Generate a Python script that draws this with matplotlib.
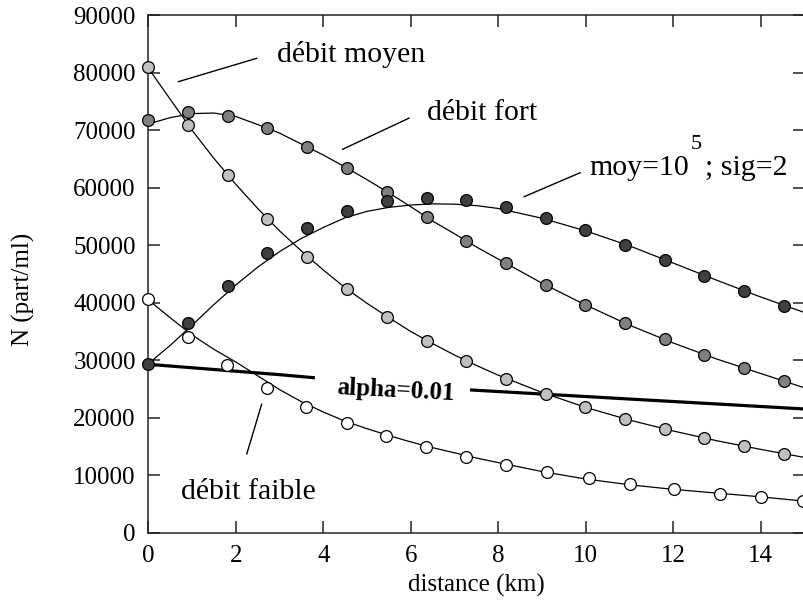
import matplotlib
matplotlib.use('Agg')
import numpy as np
import matplotlib.pyplot as plt

plt.rcParams['font.family'] = ['Liberation Serif', 'DejaVu Serif']

# sample points (km) of the measured series
km_pts = [0, 0.91, 1.82, 2.72, 3.63, 4.54, 5.45, 6.36, 7.26, 8.17, 9.08,
          9.99, 10.9, 11.8, 12.71, 13.62, 14.53]
km_faible = [0, 0.9, 1.8, 2.71, 3.6, 4.53, 5.43, 6.35, 7.26, 8.18, 9.11,
             10.07, 11.0, 12.02, 13.07, 14.0, 14.96]

n_moyen = [81060, 70920, 62170, 54600, 48020, 42340, 37580, 33350, 29930,
           26750, 24140, 21820, 19850, 18000, 16500, 15090, 13760]
n_fort = [71790, 73180, 72480, 70340, 67140, 63440, 59320, 54860, 50800,
          46860, 43090, 39640, 36430, 33650, 30920, 28610, 26420]
n_moy_sig = [29350, 36430, 42920, 48600, 53000, 55930, 57640, 58220, 57870,
             56600, 54800, 52600, 50050, 47380, 44710, 42000, 39490]
n_faible = [40660, 34100, 29180, 25100, 21820, 19150, 16830, 14970, 13230,
            11840, 10570, 9480, 8490, 7620, 6800, 6170, 5580]

# fitted curves
km_fit = [0, 0.5, 1, 1.5, 2, 2.5, 3, 3.5, 4, 4.5, 5, 5.5, 6, 6.5, 7, 7.5,
          8, 9, 10, 11, 12, 13, 14, 15]
fit_moyen = [80800, 75400, 70000, 65100, 60600, 56400, 52500, 49000, 45700,
             42600, 39900, 37400, 35000, 32900, 30900, 29100, 27400, 24400,
             21800, 19600, 17700, 16000, 14500, 13100]
fit_fort = [71100, 72200, 72900, 73000, 72400, 71000, 69500, 67600, 65700,
            63600, 61400, 59100, 56700, 54200, 52000, 49700, 47600, 43400,
            39600, 36100, 33000, 30200, 27700, 25200]
fit_moy_sig = [29400, 32600, 36100, 39700, 43100, 46200, 48900, 51200, 53100,
               54800, 55900, 56600, 57000, 57200, 57150, 56900, 56400, 54700,
               52500, 49900, 46900, 43900, 41000, 38300]
fit_faible = [40500, 37400, 34400, 31900, 29700, 27300, 24900, 22800, 21000,
              19400, 18100, 16900, 15800, 14800, 13900, 13000, 12200, 10650,
              9350, 8350, 7550, 6900, 6250, 5500]

# alpha=0.01 curve, broken where its label sits
km_alpha = [0, 1, 2, 3, 3.77, np.nan, 7.39, 9, 11, 13, 15]
n_alpha = [29300, 28700, 28100, 27500, 26980, np.nan, 24830, 24130, 23260,
           22400, 21530]

fig = plt.figure(figsize=(8.04, 6.04), dpi=100)
ax = fig.add_axes([0.1845, 0.1179, 0.8162, 0.8568])

for yfit in (fit_moyen, fit_fort, fit_moy_sig, fit_faible):
    ax.plot(km_fit, yfit, color='black', lw=0.9, zorder=2)
ax.plot(km_alpha, n_alpha, color='black', lw=2.3, zorder=2)

mk = dict(ls='none', marker='o', ms=8.5, mec='black', mew=0.9, zorder=3,
          clip_on=False)
ax.plot(km_pts, n_moyen, mfc='#c0c0c0', **mk)
ax.plot(km_pts, n_fort, mfc='#808080', **mk)
ax.plot(km_pts, n_moy_sig, mfc='#404040', **mk)
ax.plot(km_faible, n_faible, mfc='white', **mk)

# labels and their pointer lines
lab = dict(fontsize=21.5, va='baseline', ha='left')
ax.text(2.935, 81870, 'débit moyen', **lab)
ax.plot([0.686, 2.478], [78450, 82520], color='black', lw=1)
ax.text(6.38, 71790, 'débit fort', **lab)
ax.plot([4.44, 5.96], [66690, 72120], color='black', lw=1)
ax.text(10.08, 62220, 'moy=10', **lab)
ax.text(12.40, 66690, '5', fontsize=16, va='baseline', ha='left')
ax.text(12.72, 62220, '; sig=2', **lab)
ax.plot([8.59, 9.87], [58450, 62620], color='black', lw=1)
ax.text(0.74, 5830, 'débit faible', **lab)
ax.plot([2.25, 2.59], [13700, 22350], color='black', lw=1)
ax.text(4.32, 25350, 'alpha=0.01', fontsize=18, fontweight='bold',
        va='center', ha='left', rotation=-3, rotation_mode='anchor')

ax.set_xlim(0, 15)
ax.set_ylim(0, 90000)
ax.set_xticks(np.arange(0, 15, 2))
ax.set_yticks(np.arange(0, 90001, 10000))
ax.tick_params(direction='in', length=8.5, width=1.1, top=True, right=True,
               labelsize=18, pad=9, color='#222222')
for s in ax.spines.values():
    s.set_linewidth(1.1)
    s.set_color('#222222')

ax.set_xlabel('distance (km)', fontsize=18, labelpad=5)
ax.set_ylabel('N (part/ml)', fontsize=18)
ax.yaxis.set_label_coords(-0.172, 0.47)

fig.savefig('out.png', dpi=100)
